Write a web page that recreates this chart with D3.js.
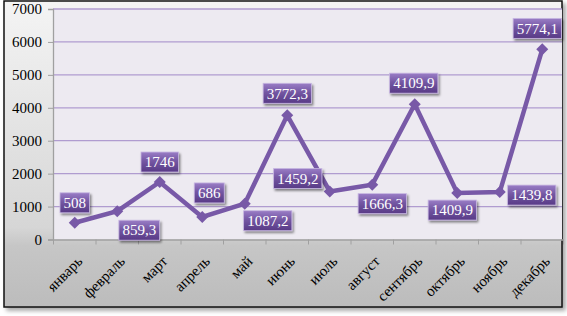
<!DOCTYPE html>
<html>
<head>
<meta charset="utf-8">
<script src="https://cdn.jsdelivr.net/npm/d3@7"></script>
<style>
    body { margin: 0; background: #fff; }
    svg { display: block; }
    svg text { font-family: "Liberation Serif", "Times New Roman", serif; }
</style>
</head>
<body>
<div id="chart"></div>
<script>
// Months and monthly values
const months = ["январь", "февраль", "март", "апрель", "май", "июнь",
    "июль", "август", "сентябрь", "октябрь", "ноябрь", "декабрь"];
const values = [508, 859.3, 1746, 686, 1087.2, 3772.3, 1459.2, 1666.3, 4109.9, 1409.9, 1439.8, 5774.1];
const labelTexts = ["508", "859,3", "1746", "686", "1087,2", "3772,3", "1459,2", "1666,3", "4109,9", "1409,9", "1439,8", "5774,1"];
const yTicks = [0, 1000, 2000, 3000, 4000, 5000, 6000, 7000];

// where each data label sits relative to its point (px)
const labelShift = [[0, -20], [22, 19], [0, -20], [7, -24], [23, 17], [0, -22],
    [-32, -13], [10, 19], [-1, -21], [-5, 17], [32, 3], [-5, -21]];

const width = 567, height = 316;
const plot = { left: 53, top: 9, right: 562, bottom: 239.5 };

const svg = d3.select("#chart").append("svg")
    .attr("width", width)
    .attr("height", height);

const defs = svg.append("defs");

const bgGrad = defs.append("linearGradient")
    .attr("id", "bgGrad").attr("x1", 0).attr("y1", 0).attr("x2", 0).attr("y2", 1);
bgGrad.append("stop").attr("offset", "0%").attr("stop-color", "#f4f4f4");
bgGrad.append("stop").attr("offset", "74%").attr("stop-color", "#d6d6d6");
bgGrad.append("stop").attr("offset", "80%").attr("stop-color", "#c6c6c6");
bgGrad.append("stop").attr("offset", "100%").attr("stop-color", "#bcbcbc");

const boxGrad = defs.append("linearGradient")
    .attr("id", "boxGrad").attr("x1", 0).attr("y1", 0).attr("x2", 0).attr("y2", 1);
boxGrad.append("stop").attr("offset", "0%").attr("stop-color", "#9a7dc6");
boxGrad.append("stop").attr("offset", "45%").attr("stop-color", "#7457a3");
boxGrad.append("stop").attr("offset", "100%").attr("stop-color", "#583a86");

const shadow = defs.append("filter").attr("id", "shadow")
    .attr("x", "-20%").attr("y", "-20%").attr("width", "150%").attr("height", "160%");
shadow.append("feDropShadow")
    .attr("dx", 1.5).attr("dy", 2).attr("stdDeviation", 1.2)
    .attr("flood-color", "#000").attr("flood-opacity", 0.45);

const outerShadow = defs.append("filter").attr("id", "outerShadow")
    .attr("x", "-5%").attr("y", "-5%").attr("width", "110%").attr("height", "110%");
outerShadow.append("feDropShadow")
    .attr("dx", 3).attr("dy", 3).attr("stdDeviation", 2)
    .attr("flood-color", "#000").attr("flood-opacity", 0.35);

// chart area
svg.append("rect")
    .attr("x", 4).attr("y", 1)
    .attr("width", 558).attr("height", 306)
    .attr("fill", "url(#bgGrad)")
    .attr("stroke", "#111")
    .attr("stroke-width", 1.5)
    .attr("filter", "url(#outerShadow)");

// plot area
svg.append("rect")
    .attr("x", plot.left).attr("y", plot.top)
    .attr("width", plot.right - plot.left).attr("height", plot.bottom - plot.top)
    .attr("fill", "#edeaf1");

const x = d3.scaleBand()
    .domain(months)
    .range([plot.left + 0.5, plot.left + 0.5 + 12 * 42.5]);

const y = d3.scaleLinear()
    .domain([0, 7000])
    .range([plot.bottom, plot.top]);

// gridlines
svg.append("g")
    .selectAll("line")
    .data(yTicks.filter(d => d > 0))
    .join("line")
    .attr("x1", plot.left).attr("x2", plot.right)
    .attr("y1", d => y(d)).attr("y2", d => y(d))
    .attr("stroke", "#b09cd0")
    .attr("stroke-width", 1.3);

// y axis
const yAxis = svg.append("g")
    .attr("transform", `translate(${plot.left},0)`)
    .call(d3.axisLeft(y).tickValues(yTicks).tickFormat(d3.format("d")).tickSize(5).tickPadding(6))
    .attr("font-family", "Liberation Serif")
    .attr("font-size", 15);
yAxis.select(".domain").attr("stroke", "#a0a0a0").attr("stroke-width", 1.3);
yAxis.selectAll(".tick line").attr("stroke", "#a0a0a0");
yAxis.selectAll(".tick text").attr("fill", "#000");

// x axis
const xAxis = svg.append("g")
    .attr("transform", `translate(0,${plot.bottom})`)
    .call(d3.axisBottom(x).tickSize(0).tickFormat(""));
xAxis.select(".domain").attr("stroke", "#a0a0a0").attr("stroke-width", 1.3);
xAxis.selectAll(".tick").remove();

// ticks between categories
svg.append("g")
    .selectAll("line")
    .data(d3.range(13))
    .join("line")
    .attr("x1", i => x.range()[0] + i * x.step())
    .attr("x2", i => x.range()[0] + i * x.step())
    .attr("y1", plot.bottom)
    .attr("y2", plot.bottom + 5)
    .attr("stroke", "#a0a0a0");

// category labels
svg.append("g")
    .selectAll("text")
    .data(months)
    .join("text")
    .attr("transform", d => `translate(${x(d) + x.bandwidth() / 2 + 5},${plot.bottom + 19}) rotate(-45)`)
    .attr("text-anchor", "end")
    .attr("dy", "0.35em")
    .style("font-size", "15px")
    .attr("fill", "#000")
    .text(d => d);

const pts = values.map((v, i) => [x(months[i]) + x.bandwidth() / 2, y(v)]);

// line
svg.append("path")
    .datum(pts)
    .attr("d", d3.line())
    .attr("fill", "none")
    .attr("stroke", "#7859a7")
    .attr("stroke-width", 4.5)
    .attr("stroke-linejoin", "miter");

// diamond markers
svg.append("g")
    .selectAll("path")
    .data(pts)
    .join("path")
    .attr("transform", d => `translate(${d[0]},${d[1]})`)
    .attr("d", "M0,-6L6,0L0,6L-6,0Z")
    .attr("fill", "#7859a7");

// data labels
const labels = svg.append("g")
    .selectAll("g")
    .data(pts)
    .join("g")
    .attr("transform", (d, i) => `translate(${d[0] + labelShift[i][0]},${d[1] + labelShift[i][1]})`);

labels.append("text")
    .attr("text-anchor", "middle")
    .attr("dy", "0.35em")
    .style("font-size", "15px")
    .attr("fill", "#fff")
    .text((d, i) => labelTexts[i]);

labels.each(function () {
    const g = d3.select(this);
    const bb = g.select("text").node().getBBox();
    const w = bb.width + 7;
    g.insert("rect", "text")
        .attr("x", -w / 2).attr("y", -10)
        .attr("width", w).attr("height", 20)
        .attr("fill", "url(#boxGrad)")
        .attr("stroke", "#c8b8e2")
        .attr("stroke-width", 0.8)
        .attr("filter", "url(#shadow)");
});
</script>
</body>
</html>
